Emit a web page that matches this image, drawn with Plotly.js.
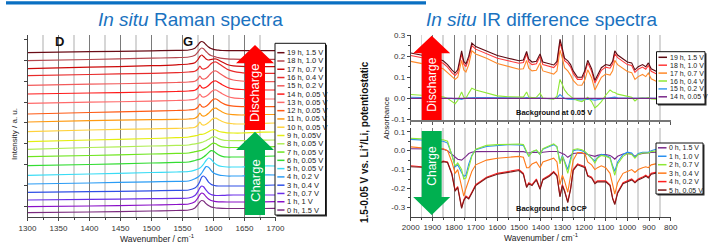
<!DOCTYPE html>
<html><head><meta charset="utf-8">
<script src="https://cdn.plot.ly/plotly-3.0.1.min.js"></script>
<style>html,body{margin:0;padding:0;background:#fff}#chart{width:708px;height:244px}</style>
</head><body><div id="chart"></div>
<script>
// ---------------- Raman data ----------------
const ramanWn = [1300,1400,1500,1540,1560,1570,1575,1578,1581,1584,1588,1592,1596,1600,1604,1608,1614,1622,1632,1645,1660,1680,1700];
const raman0h  = [4.3,5,6,6.5,7,9.1,12.5,15.2,16.5,16,13.4,11.4,10.1,9.5,9,8.8,8.6,8.5,8.5,8.5,8.5,8.5,8.7];
const raman1h  = [10.3,11,12,12.5,13,15.3,19.2,22.4,24,23.3,20.3,17.9,16.5,15.8,15.4,15.2,15.1,15,15,15,15,15.2,15.3];
const raman2h  = [17,17.6,18.3,18.7,19,21.5,25.6,29.2,31,30.2,26.8,24,22.5,21.8,21.5,21.5,21.6,21.8,22,22,22,22,22];
const raman3h  = [24.7,25.3,26.2,26.6,27,28.9,32.1,35.6,39.8,41,38.7,34.8,32.8,31.7,31.2,31,31,31,31,31,31.3,31.7,32];
const raman4h  = [33,34,35.2,35.7,36,38.2,39.9,41.6,44,46.9,50.4,49.8,46.7,44.2,42.9,42.2,41.5,41,41,41,41.5,42,42];
const raman5h  = [41.7,43,44.5,45,45.5,46.9,48,49,50.6,52.8,56.5,59,57.8,54.8,52.7,51.4,50.5,50,50,50,50.5,51,51];
const raman6h  = [51.3,52.5,54,54.6,55,56.5,57.3,57.9,58.8,60,62,64.4,66.3,65.9,64,62.2,60.7,60,60,60,60.3,60.7,61];
const raman7h  = [60.3,61.5,63,63.6,64,65.3,65.9,66.3,66.8,67.6,68.9,70.7,72.7,73.8,73.2,71.6,70.1,69.5,69.5,69.5,69.8,70,70.3];
const raman8h  = [67.7,69.5,71,71.6,72,73.2,73.7,74.1,74.6,75.3,76.3,77.7,79.3,80.3,79.8,78.4,77.2,76.5,76.3,76.3,76.5,76.8,77];
const raman9h  = [75.3,77,78.5,79.3,80,81.2,81.8,82.6,82.7,83,84,85.3,86.7,87.5,87,85.8,84.8,84.2,84,84,84.3,84.8,85];
const raman10h = [85.3,87,88.2,88.7,89,89.8,92,95,92.5,91.8,92.8,94.5,96.8,98.6,98.8,97.4,95.5,93.8,93.2,93,93.3,93.7,94];
const raman11h = [95,96.3,97.3,97.7,98,98.8,101,104,101.5,100.8,101.8,103.7,106.3,108.5,108.8,107.3,105,103,102.3,102,102.2,102.5,102.5];
const raman12h = [103,104.5,105.8,106.5,107,107.8,110,113,110.5,109.8,110.8,112.8,115.5,117.7,118,116.5,114,111.8,110.8,110.4,110.3,110.3,110.3];
const raman13h = [113.7,114.8,115.8,116.5,117,117.8,120,123,120.5,119.8,120.7,122.5,125,126.8,127,125.6,123.3,120.8,119.2,118.5,118.2,118,118];
const raman14h = [123,124,125,125.5,126,126.8,129,132,129.5,128.8,129.7,131.5,134,135.8,136,134.6,132.3,129.8,128.2,127.5,127.2,127,127];
const raman15h = [131.7,132.8,133.8,134.5,135,135.8,138,141,138.5,137.8,138.8,141,143.8,145.7,146,144.5,142,139,137,136,135.6,135.4,135.3];
const raman16h = [141.3,142.5,143.7,144.4,145,145.8,148,151,148.5,147.8,148.7,150.5,153.2,154.8,155,153.5,151,147.8,145.7,144.4,143.9,143.7,143.7];
const raman17h = [148.3,149.8,151.3,152.2,153,154.3,157.5,160.5,162,160.5,158,157,157.5,158,158,157,155,152.5,151.2,150.6,150.4,150.3,150.3];
const raman18h = [156.3,157.5,158.8,159.4,160,161.8,165,167.7,169,168.2,165.5,163,161.5,160.8,160,159.3,158.6,158.1,157.8,157.7,157.7,157.7,157.7];
const raman19h = [164.3,165.3,166.2,166.6,167,168.8,172,174.5,175.5,174.8,172.3,170,168.5,167.7,167.2,166.8,166.5,166.3,166.3,166.3,166.3,166.3,166.3];
const ramanSeries = [raman0h,raman1h,raman2h,raman3h,raman4h,raman5h,raman6h,raman7h,raman8h,raman9h,raman10h,raman11h,raman12h,raman13h,raman14h,raman15h,raman16h,raman17h,raman18h,raman19h];
const ramanLabels = ['0 h, 1.5 V','1 h, 1 V','2 h, 0.7 V','3 h, 0.4 V','4 h, 0.2 V','5 h, 0.05 V','6 h, 0.05 V','7 h, 0.05 V','8 h, 0.05 V','9 h, 0.05V','10 h, 0.05 V','11 h, 0.05 V','12 h, 0.05 V','13 h, 0.05 V','14 h, 0.05 V','15 h, 0.2 V','16 h, 0.4 V','17 h, 0.7 V','18 h, 1.0 V','19 h, 1.5 V'];
const ramanColors = ['#7b2a7e','#8a10c8','#6a2ee8','#2f4fe6','#2a9cf5','#3adcf5','#33dd33','#6ee61e','#b0ee55','#e4ee10','#ffd23c','#ff9a10','#ff5a14','#ff6a6a','#ff1a1a','#f25a5a','#e82a2a','#cc0a0a','#b4474e','#6a0c16'];
const ramanYTicks = [11,32,53,74,95,115,136,157,178];

// ---------------- IR data ----------------
const irWn = [2000,1950,1900,1850,1830,1810,1795,1783,1765,1755,1745,1732,1718,1700,1650,1600,1550,1500,1480,1465,1455,1440,1420,1403,1390,1360,1340,1325,1311,1300,1290,1275,1262,1250,1230,1210,1195,1183,1165,1150,1138,1120,1100,1080,1068,1058,1045,1020,1000,980,965,950,930,915,903,890,870,860];
const ir19h = [0.215,0.205,0.195,0.178,0.16,0.135,0.12,0.135,0.225,0.175,0.163,0.2,0.262,0.245,0.225,0.203,0.19,0.178,0.182,0.222,0.185,0.172,0.176,0.21,0.172,0.163,0.158,0.175,0.28,0.235,0.19,0.178,0.16,0.13,0.1,0.1,0.135,0.18,0.14,0.085,0.11,0.145,0.16,0.155,0.175,0.225,0.205,0.185,0.172,0.168,0.135,0.15,0.16,0.15,0.168,0.14,0.13,0.125];
const ir18h = [0.203,0.193,0.183,0.166,0.148,0.122,0.108,0.122,0.212,0.162,0.15,0.188,0.25,0.233,0.213,0.19,0.178,0.166,0.17,0.21,0.172,0.16,0.164,0.198,0.16,0.151,0.146,0.163,0.265,0.222,0.178,0.166,0.148,0.118,0.09,0.09,0.123,0.168,0.128,0.073,0.098,0.133,0.148,0.143,0.163,0.212,0.193,0.173,0.16,0.156,0.123,0.138,0.148,0.138,0.156,0.128,0.118,0.113];
const ir17h = [0.175,0.165,0.155,0.14,0.122,0.1,0.09,0.1,0.18,0.135,0.125,0.16,0.225,0.21,0.19,0.165,0.15,0.138,0.14,0.18,0.143,0.13,0.133,0.168,0.13,0.12,0.115,0.13,0.228,0.19,0.145,0.13,0.11,0.085,0.063,0.062,0.09,0.135,0.098,0.04,0.065,0.1,0.115,0.11,0.13,0.18,0.16,0.14,0.127,0.122,0.09,0.103,0.113,0.103,0.12,0.093,0.083,0.078];
const ir16h = [0.018,0.014,0.01,0.008,0.0,-0.015,-0.025,-0.01,0.03,0.005,0.0,0.025,0.048,0.04,0.025,0.012,0.008,0.006,0.006,0.03,0.006,0.004,0.005,0.025,0.002,-0.002,-0.004,0.01,0.09,0.065,0.04,0.02,0.01,0.0,-0.01,-0.015,-0.005,0.005,-0.015,-0.045,-0.035,-0.015,0.015,0.04,0.03,0.028,0.02,0.015,0.012,0.005,-0.012,0.0,0.002,0.0,0.004,-0.003,-0.004,-0.005];
const ir15h = [0.005,0.004,0.003,0.003,0.002,0.0,-0.003,-0.002,-0.005,0.0,0.002,0.003,0.004,0.004,0.004,0.003,0.003,0.002,0.002,0.004,0.002,0.002,0.002,0.003,0.0,-0.002,-0.002,0.002,0.018,0.008,0.0,-0.004,-0.005,-0.006,-0.006,-0.007,-0.006,-0.004,-0.006,-0.008,-0.006,-0.004,-0.002,0.002,0.004,0.006,0.003,0.002,0.002,0.001,-0.002,0.0,0.001,0.0,0.002,0.001,0.0,0.0];
const ir14hWn = [2000,1600,1250,1100,860];
const ir14h = [0.0,0.0,-0.003,-0.002,0.0];
const ir0h = [0.01,0.01,0.01,0.008,0.0,-0.02,-0.035,-0.045,-0.05,-0.042,-0.03,-0.015,-0.008,-0.005,-0.004,-0.004,-0.004,-0.005,-0.005,-0.01,-0.012,-0.01,-0.008,-0.012,-0.008,-0.004,-0.003,-0.004,-0.01,-0.015,-0.02,-0.035,-0.025,-0.015,-0.012,-0.012,-0.015,-0.02,-0.025,-0.03,-0.025,-0.02,-0.02,-0.025,-0.035,-0.045,-0.03,-0.018,-0.015,-0.018,-0.03,-0.02,-0.015,-0.012,-0.012,-0.01,-0.008,-0.006];
const ir1h = [0.06,0.056,0.052,0.05,0.04,-0.02,-0.085,-0.075,-0.115,-0.135,-0.13,-0.07,-0.025,0.005,0.022,0.028,0.032,0.03,0.028,-0.01,-0.028,-0.005,0.002,-0.02,0.008,0.022,0.032,0.02,-0.06,-0.025,-0.055,-0.1,-0.04,0.0,0.005,0.0,-0.008,-0.02,-0.035,-0.055,-0.035,-0.02,-0.025,-0.035,-0.08,-0.11,-0.06,-0.02,-0.008,-0.012,-0.035,-0.015,-0.008,-0.006,-0.008,0.0,0.006,0.01];
const ir2h = [0.065,0.062,0.06,0.058,0.05,-0.025,-0.08,-0.065,-0.1,-0.15,-0.145,-0.09,-0.03,0.008,0.028,0.032,0.035,0.035,0.032,-0.01,-0.03,-0.005,0.004,-0.02,0.01,0.026,0.036,0.022,-0.07,-0.03,-0.06,-0.12,-0.05,0.005,0.01,0.005,-0.005,-0.02,-0.04,-0.065,-0.04,-0.025,-0.03,-0.04,-0.095,-0.13,-0.07,-0.03,-0.015,-0.02,-0.04,-0.02,-0.012,-0.01,-0.012,-0.005,0.0,0.0];
const ir3h = [0.02,0.015,0.01,0.01,0.0,-0.06,-0.12,-0.1,-0.2,-0.24,-0.2,-0.16,-0.11,-0.075,-0.05,-0.04,-0.035,-0.03,-0.035,-0.09,-0.09,-0.07,-0.06,-0.09,-0.06,-0.05,-0.04,-0.06,-0.18,-0.13,-0.16,-0.22,-0.14,-0.05,-0.01,-0.01,-0.02,-0.06,-0.075,-0.1,-0.09,-0.08,-0.09,-0.12,-0.18,-0.23,-0.17,-0.12,-0.11,-0.1,-0.115,-0.1,-0.09,-0.085,-0.09,-0.075,-0.07,-0.065];
const ir4h = [-0.08,-0.085,-0.08,-0.055,-0.06,-0.12,-0.21,-0.19,-0.3,-0.26,-0.24,-0.25,-0.22,-0.18,-0.14,-0.12,-0.11,-0.1,-0.12,-0.19,-0.17,-0.18,-0.15,-0.2,-0.15,-0.13,-0.11,-0.13,-0.24,-0.18,-0.21,-0.27,-0.2,-0.1,-0.07,-0.08,-0.085,-0.13,-0.14,-0.17,-0.16,-0.16,-0.16,-0.18,-0.25,-0.28,-0.22,-0.17,-0.16,-0.15,-0.165,-0.15,-0.14,-0.13,-0.14,-0.12,-0.115,-0.11];
const ir5h = [-0.085,-0.088,-0.083,-0.058,-0.063,-0.125,-0.215,-0.195,-0.305,-0.265,-0.245,-0.255,-0.225,-0.185,-0.145,-0.125,-0.115,-0.105,-0.125,-0.195,-0.175,-0.185,-0.155,-0.205,-0.155,-0.135,-0.115,-0.135,-0.245,-0.185,-0.215,-0.275,-0.205,-0.105,-0.075,-0.085,-0.09,-0.135,-0.145,-0.175,-0.165,-0.165,-0.165,-0.185,-0.255,-0.285,-0.225,-0.175,-0.165,-0.155,-0.17,-0.155,-0.145,-0.135,-0.145,-0.125,-0.12,-0.115];
const irUpperLabels = ['19 h, 1.5 V','18 h, 1.0 V','17 h, 0.7 V','16 h, 0.4 V','15 h, 0.2 V','14 h, 0.05 V'];
const irUpperColors = ['#5c0a12','#ff3a3a','#ff8a2a','#8ee836','#3a9cf0','#7a2a8a'];
const irLowerLabels = ['0 h, 1.5 V','1 h, 1.0 V','2 h, 0.7 V','3 h, 0.4 V','4 h, 0.2 V','5 h, 0.05 V'];
const irLowerColors = ['#7a2a8a','#2a90f0','#8ee836','#ff7a1a','#ff2020','#7a1a1a'];
const irUpperTicks = [0.3,0.2,0.1,0.0,-0.1];
const irUpperTickText = ['0.3','0.2','0.1','0.0','-0.1'];
const irLowerTicks = [0.1,0.0,-0.1,-0.2,-0.3];
const irLowerTickText = ['0.1','0.0','-0.1','-0.2','-0.3'];

// ---------------- helpers (pixel -> paper) ----------------
const W = 708, H = 244;
const X = p => p / W;
const Y = p => 1 - p / H;
const FONT = 'Liberation Sans, Arial, sans-serif';

const traces = [];
ramanSeries.forEach((s, i) => traces.push({
  x: ramanWn, y: s, type: 'scatter', mode: 'lines', xaxis: 'x', yaxis: 'y',
  line: {color: ramanColors[i], width: 1.2, shape: 'spline', smoothing: 0.8}, hoverinfo: 'skip'
}));
const irUpperSeries = [ir19h, ir18h, ir17h, ir16h, ir15h];
[4,3,2,1,0].forEach(i => traces.push({
  x: irWn, y: irUpperSeries[i], type: 'scatter', mode: 'lines', xaxis: 'x2', yaxis: 'y2',
  line: {color: irUpperColors[i], width: 1.1}, hoverinfo: 'skip'
}));
traces.push({x: ir14hWn, y: ir14h, type: 'scatter', mode: 'lines', xaxis: 'x2', yaxis: 'y2',
  line: {color: irUpperColors[5], width: 1.1}, hoverinfo: 'skip'});
const irLowerSeries = [ir0h, ir1h, ir2h, ir3h, ir4h, ir5h];
irLowerSeries.forEach((s, i) => traces.push({
  x: irWn, y: s, type: 'scatter', mode: 'lines', xaxis: 'x3', yaxis: 'y3',
  line: {color: irLowerColors[i], width: 1.1}, hoverinfo: 'skip'
}));

const tickFont = {family: FONT, size: 8, color: '#333'};
const shapes = [];
const annotations = [];

// top blue bar
shapes.push({type: 'rect', xref: 'paper', yref: 'paper', x0: X(6), x1: X(426), y0: Y(4.5), y1: Y(1.2),
  fillcolor: '#0a6fc2', line: {width: 0}, layer: 'above'});

// arrows
function arrowUp(cx, tip, base, bottom, hw, sw, color) {
  return {type: 'path', xref: 'paper', yref: 'paper', layer: 'above', fillcolor: color, line: {width: 0},
    path: `M ${X(cx)} ${Y(tip)} L ${X(cx+hw)} ${Y(base)} L ${X(cx+sw)} ${Y(base)} L ${X(cx+sw)} ${Y(bottom)} L ${X(cx-sw)} ${Y(bottom)} L ${X(cx-sw)} ${Y(base)} L ${X(cx-hw)} ${Y(base)} Z`};
}
shapes.push(arrowUp(255, 45, 63.3, 130, 19, 10, '#ff0000'));
shapes.push(arrowUp(255, 131.7, 150, 215, 19, 10, '#00b050'));
shapes.push(arrowUp(431.7, 35.7, 53.3, 120, 18.5, 10, '#ff0000'));
shapes.push(arrowUp(431.7, 215, 197, 131, 18.5, 10, '#00b050'));

// legends
function legendBox(x0, y0, x1, y1) {
  shapes.push({type: 'rect', xref: 'paper', yref: 'paper', layer: 'above', x0: X(x0+1.5), x1: X(x1+1.5), y0: Y(y1+1.5), y1: Y(y0+1.5), fillcolor: '#333', line: {width: 0}});
  shapes.push({type: 'rect', xref: 'paper', yref: 'paper', layer: 'above', x0: X(x0), x1: X(x1), y0: Y(y1), y1: Y(y0), fillcolor: '#fff', line: {color: '#111', width: 1}});
}
function legendEntries(labels, colors, lx0, lx1, tx, ytop, step, size) {
  labels.forEach((lab, k) => {
    const yy = ytop + step * k;
    shapes.push({type: 'line', xref: 'paper', yref: 'paper', layer: 'above', x0: X(lx0), x1: X(lx1), y0: Y(yy), y1: Y(yy), line: {color: colors[k], width: 1.5}});
    annotations.push({xref: 'paper', yref: 'paper', x: X(tx), y: Y(yy), xanchor: 'left', yanchor: 'middle', text: lab, showarrow: false, borderpad: 0,
      font: {family: FONT, size: size, color: '#222'}});
  });
}
legendBox(275, 43.3, 325.5, 215);
legendEntries(ramanLabels.slice().reverse(), ramanColors.slice().reverse(), 277.3, 284.5, 285.5, 52.7, 8.28, 7.5);
legendBox(656.5, 51.7, 705, 104);
legendEntries(irUpperLabels, irUpperColors, 658.5, 667, 668.5, 57.3, 7.9, 7);
legendBox(656, 143, 703, 194);
legendEntries(irLowerLabels, irLowerColors, 658, 666.5, 668, 147.8, 8.45, 7);

// text annotations
function txt(x, y, text, size, opts) {
  annotations.push(Object.assign({xref: 'paper', yref: 'paper', x: X(x), y: Y(y), xanchor: 'center', yanchor: 'middle', text: text, showarrow: false,
    font: {family: FONT, size: size, color: '#222'}}, opts || {}));
}
txt(190, 19.5, '<i>In situ</i> Raman spectra', 19, {font: {family: FONT, size: 19, color: '#1a72c0'}});
txt(541, 19.5, '<i>In situ</i> IR difference spectra', 19, {font: {family: FONT, size: 19, color: '#1a72c0'}});
txt(59, 42, '<b>D</b>', 13, {font: {family: FONT, size: 13, color: '#111'}});
txt(188, 42, '<b>G</b>', 13, {font: {family: FONT, size: 13, color: '#111'}});
txt(14, 134, 'Intensity / a. u.', 8, {textangle: -90});
txt(157, 238.5, 'Wavenumber / cm<sup>-1</sup>', 8.5);
txt(541, 237.5, 'Wavenumber / cm<sup>-1</sup>', 8.5);
txt(385.5, 118, 'Absorbance', 8, {textangle: -90});
txt(364, 142, '<b>1.5-0.05 V vs. Li<sup>+</sup>/Li, potentiostatic</b>', 10, {textangle: -90, font: {family: FONT, size: 10, color: '#111'}});
txt(514, 112.7, '<b>Background at 0.05 V</b>', 7.5, {xanchor: 'left', font: {family: FONT, size: 7.5, color: '#111'}});
txt(514, 208, '<b>Background at OCP</b>', 7.5, {xanchor: 'left', font: {family: FONT, size: 7.5, color: '#111'}});
txt(255, 93, 'Discharge', 13, {textangle: -90, font: {family: FONT, size: 13, color: '#fff'}});
txt(255, 181, 'Charge', 13, {textangle: -90, font: {family: FONT, size: 13, color: '#fff'}});
txt(431.7, 85, 'Discharge', 12, {textangle: -90, font: {family: FONT, size: 12, color: '#fff'}});
txt(431.7, 166, 'Charge', 12, {textangle: -90, font: {family: FONT, size: 12, color: '#fff'}});

const gridMajor = '#7a7a7a', gridMinor = '#d6d6d6';
const layout = {
  width: W, height: H, margin: {l: 0, r: 0, t: 0, b: 0}, paper_bgcolor: '#fff', plot_bgcolor: 'rgba(0,0,0,0)',
  showlegend: false, font: {family: FONT},
  xaxis: {domain: [X(27.5), X(275.5)], range: [1300, 1700], anchor: 'y', dtick: 50, tick0: 0,
    showline: true, linecolor: '#444', linewidth: 1, ticks: 'outside', ticklen: 3, tickcolor: '#444',
    showgrid: true, gridcolor: gridMajor, gridwidth: 1, zeroline: false, tickfont: tickFont,
    minor: {dtick: 25, showgrid: true, gridcolor: gridMinor, gridwidth: 1.5, ticks: 'outside', ticklen: 2, tickcolor: '#444'}},
  yaxis: {domain: [Y(217), Y(35)], range: [0, 182], anchor: 'x', tickmode: 'array', tickvals: ramanYTicks,
    showticklabels: false, showline: true, linecolor: '#444', ticks: 'outside', ticklen: 3, tickcolor: '#444',
    showgrid: false, zeroline: false},
  xaxis2: {domain: [X(410.7), X(670.7)], range: [2000, 800], anchor: 'y2', dtick: 100, tick0: 0,
    showline: true, linecolor: '#777', linewidth: 2, ticks: 'outside', ticklen: 3, tickcolor: '#555',
    showticklabels: false, showgrid: true, gridcolor: gridMajor, gridwidth: 1, zeroline: false,
    minor: {dtick: 50, showgrid: true, gridcolor: gridMinor, gridwidth: 1.5, ticks: 'outside', ticklen: 2, tickcolor: '#555'}},
  yaxis2: {domain: [Y(119.5), Y(35)], range: [-0.1, 0.3], anchor: 'x2', tickmode: 'array', tickvals: irUpperTicks, ticktext: irUpperTickText,
    showline: true, linecolor: '#444', ticks: 'outside', ticklen: 3, tickcolor: '#444', tickfont: tickFont,
    showgrid: false, zeroline: false, minor: {tickmode: 'array', tickvals: [0.25,0.15,0.05,-0.05], ticks: 'outside', ticklen: 2, tickcolor: '#444'}},
  xaxis3: {domain: [X(410.7), X(670.7)], range: [2000, 800], anchor: 'y3', dtick: 100, tick0: 0,
    showline: true, linecolor: '#444', linewidth: 1, ticks: 'outside', ticklen: 3, tickcolor: '#444',
    showgrid: true, gridcolor: gridMajor, gridwidth: 1, zeroline: false, tickfont: tickFont,
    minor: {dtick: 50, showgrid: true, gridcolor: gridMinor, gridwidth: 1.5, ticks: 'outside', ticklen: 2, tickcolor: '#444'}},
  yaxis3: {domain: [Y(216.8), Y(128)], range: [-0.35, 0.12], anchor: 'x3', tickmode: 'array', tickvals: irLowerTicks, ticktext: irLowerTickText,
    showline: true, linecolor: '#444', ticks: 'outside', ticklen: 3, tickcolor: '#444', tickfont: tickFont,
    showgrid: false, zeroline: false, minor: {tickmode: 'array', tickvals: [0.05,-0.05,-0.15,-0.25], ticks: 'outside', ticklen: 2, tickcolor: '#444'}},
  shapes: shapes, annotations: annotations
};
Plotly.newPlot('chart', traces, layout, {staticPlot: true, displayModeBar: false});
</script></body></html>
